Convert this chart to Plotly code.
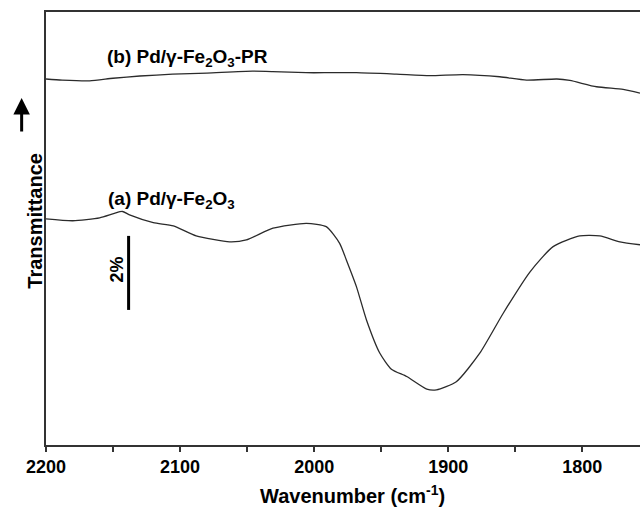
import plotly.graph_objects as go

# Spectrum (b) Pd/γ-Fe2O3-PR  (wavenumber, transmittance % arbitrary offset)
wn_b = [2200, 2188, 2167.5, 2150, 2130, 2105.6, 2080, 2046, 2031, 2006, 1988, 1968.5,
        1938.7, 1913.8, 1889, 1861.6, 1841.6, 1819, 1809.3, 1789.4, 1769.6, 1757]
t_b = [9.89, 9.86, 9.84, 9.91, 9.97, 10.02, 10.05, 10.10, 10.09, 10.06, 10.06, 10.06,
       10.02, 9.98, 10.01, 9.95, 9.86, 9.89, 9.85, 9.68, 9.61, 9.51]

# Spectrum (a) Pd/γ-Fe2O3
wn_a = [2200, 2180, 2160, 2149, 2143, 2137.7, 2120, 2105, 2088, 2063, 2050.6, 2030.7,
        2005.8, 1991, 1981, 1976, 1968.5, 1961, 1951, 1942.4, 1931, 1916, 1908.8, 1894,
        1876.5, 1859, 1839, 1821.8, 1801.9, 1787, 1772, 1757]
t_a = [6.11, 6.06, 6.14, 6.26, 6.31, 6.22, 6.01, 5.92, 5.65, 5.49, 5.54, 5.86,
       5.99, 5.90, 5.45, 5.00, 4.28, 3.38, 2.48, 2.05, 1.85, 1.51, 1.49, 1.71,
       2.48, 3.56, 4.68, 5.36, 5.65, 5.65, 5.49, 5.41]

# 2% scale bar
bar_x = [2138.4, 2138.4]
bar_y = [3.65, 5.65]

x_ticks = [2200, 2100, 2000, 1900, 1800]

FONT = "Liberation Sans, Arial, sans-serif"
LINE = "#2b2b2b"

fig = go.Figure()
fig.add_trace(go.Scatter(x=wn_b, y=t_b, mode="lines", line=dict(color=LINE, width=1.3, shape="spline", smoothing=0.6),
                         showlegend=False, hoverinfo="skip"))
fig.add_trace(go.Scatter(x=wn_a, y=t_a, mode="lines", line=dict(color=LINE, width=1.3, shape="spline", smoothing=0.6),
                         showlegend=False, hoverinfo="skip"))
fig.add_trace(go.Scatter(x=bar_x, y=bar_y, mode="lines", line=dict(color="black", width=3),
                         showlegend=False, hoverinfo="skip"))

fig.add_annotation(x=2094.4, y=10.45, text="<b>(b) Pd/γ-Fe<sub>2</sub>O<sub>3</sub>-PR</b>",
                   showarrow=False, font=dict(family=FONT, size=19, color="black"))
fig.add_annotation(x=2106.3, y=6.62, text="<b>(a) Pd/γ-Fe<sub>2</sub>O<sub>3</sub></b>",
                   showarrow=False, font=dict(family=FONT, size=19, color="black"))
fig.add_annotation(x=2147.4, y=4.73, text="<b>2%</b>", textangle=-90,
                   showarrow=False, font=dict(family=FONT, size=18, color="black"))

# y-axis title and arrow
fig.add_annotation(xref="paper", yref="paper", x=-0.041, y=(445 - 221) / 433, text="<b>Transmittance</b>",
                   textangle=-90, showarrow=False, font=dict(family=FONT, size=20, color="black"))
fig.add_annotation(xref="paper", yref="paper", x=-0.041, y=(445 - 98) / 433,
                   ax=0, ay=35, text="", showarrow=True, arrowhead=2, arrowsize=1.1,
                   arrowwidth=3, arrowcolor="black")

# x-axis title
fig.add_annotation(xref="paper", yref="paper", x=(352 - 46) / 594, y=-(494 - 445) / 433,
                   text="<b>Wavenumber (cm<sup>-1</sup>)</b>", showarrow=False, yanchor="middle",
                   font=dict(family=FONT, size=20, color="black"))

fig.update_layout(
    width=640, height=511,
    margin=dict(l=46, r=0, t=12, b=66),
    paper_bgcolor="white", plot_bgcolor="white",
    font=dict(family=FONT, color="black"),
    xaxis=dict(range=[2200, 1757], tickvals=x_ticks, ticktext=[f"<b>{v}</b>" for v in x_ticks],
               ticks="outside", ticklen=5, tickwidth=1.5, tickcolor="#333",
               minor=dict(dtick=50, ticks="outside", ticklen=5, tickwidth=1.5, tickcolor="#333", tick0=2150),
               showline=True, linecolor="#333", linewidth=1.5, mirror=True,
               showgrid=False, zeroline=False, tickfont=dict(size=18, family=FONT, color="black")),
    yaxis=dict(range=[0, 11.70], showticklabels=False, ticks="", showgrid=False, zeroline=False,
               showline=True, linecolor="#333", linewidth=1.5, mirror=False),
)

fig.write_html("out.html", config={"displayModeBar": False},
               post_script="document.body.style.margin='0';")
